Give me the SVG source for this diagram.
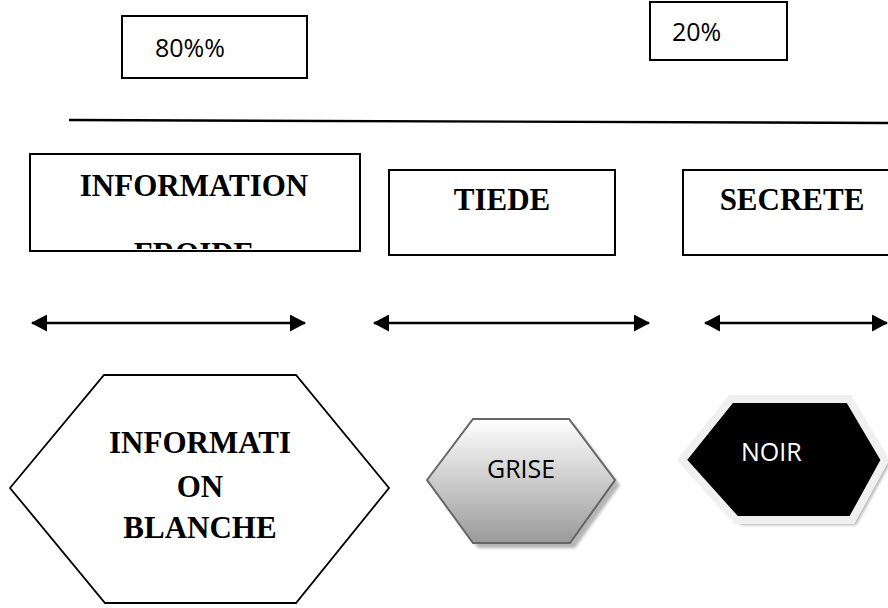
<svg xmlns="http://www.w3.org/2000/svg" width="888" height="608" viewBox="0 0 888 608">
  <style>
    .box { fill: #ffffff; stroke: #000000; stroke-width: 2; }
    .serif-b { font-family: "Liberation Serif", "Times New Roman", serif; font-weight: bold; font-size: 31px; fill: #000000; }
    .sans { font-family: "Open Sans", "Liberation Sans", sans-serif; font-size: 25px; fill: #000000; }
    .conn { stroke: #000000; stroke-width: 2.4; fill: none; }
  </style>
  <defs>
    <marker id="head" viewBox="0 0 16 17" refX="15" refY="8.5" markerWidth="16" markerHeight="17" markerUnits="userSpaceOnUse" orient="auto-start-reverse">
      <path d="M0,0 L16,8.5 L0,17 Z" fill="#000000"/>
    </marker>
    <linearGradient id="greyFill" x1="0" y1="0" x2="0" y2="1">
      <stop offset="0" stop-color="#ffffff"/>
      <stop offset="1" stop-color="#9a9a9a"/>
    </linearGradient>
    <filter id="soft" x="-10%" y="-10%" width="130%" height="130%">
      <feGaussianBlur stdDeviation="1.5"/>
    </filter>
    <clipPath id="froideClip">
      <rect x="31" y="155" width="328" height="94"/>
    </clipPath>
  </defs>

  <!-- percentage labels -->
  <g id="pct80">
    <rect class="box" x="122" y="16" width="185" height="62"/>
    <text class="sans" x="155" y="57">80%%</text>
  </g>
  <g id="pct20">
    <rect class="box" x="650" y="2" width="137" height="58"/>
    <text class="sans" x="672" y="41">20%</text>
  </g>

  <!-- category boxes -->
  <g id="froide">
    <rect class="box" x="30" y="154" width="330" height="97"/>
    <text class="serif-b" x="194" y="196" text-anchor="middle">INFORMATION</text>
    <g clip-path="url(#froideClip)">
      <text class="serif-b" x="194" y="264" text-anchor="middle">FROIDE</text>
    </g>
  </g>
  <g id="tiede">
    <rect class="box" x="389" y="170" width="226" height="85"/>
    <text class="serif-b" x="502" y="210" text-anchor="middle">TIEDE</text>
  </g>
  <g id="secrete">
    <rect class="box" x="683" y="170" width="220" height="85"/>
    <text class="serif-b" x="792" y="210" text-anchor="middle">SECRETE</text>
  </g>

  <!-- connectors -->
  <g id="connectors">
    <line class="conn" x1="69" y1="120" x2="888" y2="123"/>
    <line class="conn" x1="32" y1="323" x2="305" y2="323" marker-start="url(#head)" marker-end="url(#head)"/>
    <line class="conn" x1="374" y1="323" x2="649" y2="323" marker-start="url(#head)" marker-end="url(#head)"/>
    <line class="conn" x1="705" y1="323" x2="887" y2="323" marker-start="url(#head)" marker-end="url(#head)"/>
  </g>

  <!-- hexagons -->
  <g id="blanche">
    <polygon points="10,488 104,375 296,375 389,488 296,603 105,603" fill="#ffffff" stroke="#000000" stroke-width="1.8"/>
    <text class="serif-b" x="200" y="453" text-anchor="middle">INFORMATI</text>
    <text class="serif-b" x="200" y="497" text-anchor="middle">ON</text>
    <text class="serif-b" x="200" y="538" text-anchor="middle">BLANCHE</text>
  </g>
  <g id="grise">
    <polygon points="432,485 478,424 574,424 620,485 575,548 478,548" fill="#b5b5b5" filter="url(#soft)"/>
    <polygon points="427,480 473,419 569,419 615,480 570,543 473,543" fill="url(#greyFill)" stroke="#666666" stroke-width="2"/>
    <text class="sans" x="487" y="478">GRISE</text>
  </g>
  <g id="noir">
    <polygon points="684,465 736,402 853,402 889,465 856,525 741,525" fill="#b0b0b0" filter="url(#soft)"/>
    <polygon points="682,460 731,399 849,399 885,460 852,520 736,520" fill="#000000" stroke="#f0f0f0" stroke-width="8" stroke-linejoin="miter"/>
    <text x="741" y="461" font-family="'Open Sans', 'Liberation Sans', sans-serif" font-size="25" fill="#ffffff">NOIR</text>
  </g>
</svg>
